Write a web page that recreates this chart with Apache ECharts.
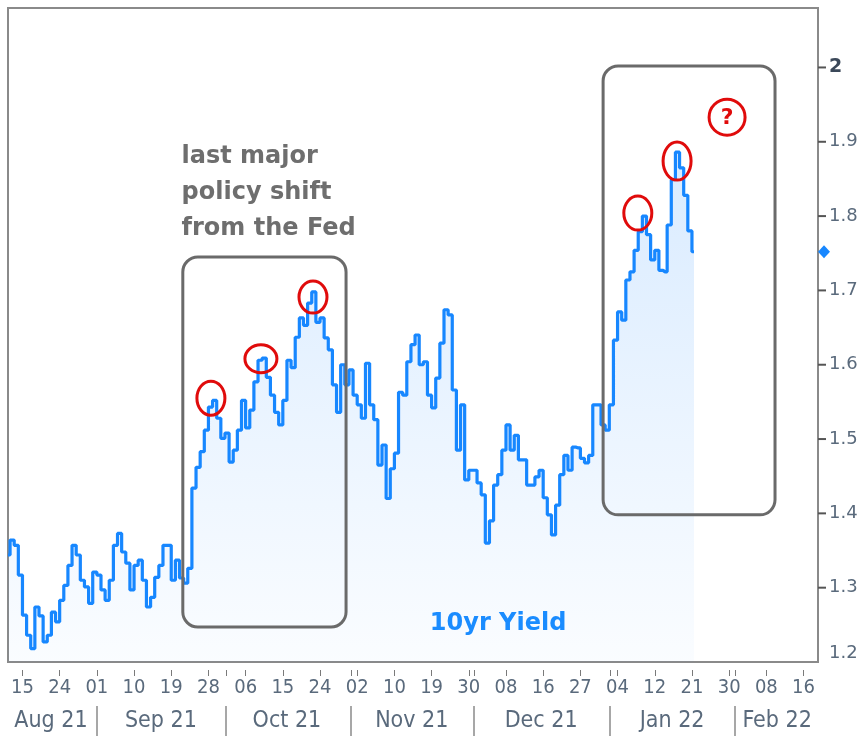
<!DOCTYPE html>
<html>
<head>
<meta charset="utf-8">
<script src="https://cdn.jsdelivr.net/npm/echarts@6/dist/echarts.min.js"></script>
<style>
  html, body { margin: 0; padding: 0; background: #fff; }
  #chart { width: 866px; height: 738px; }
</style>
</head>
<body>
<div id="chart"></div>
<script>
// 10yr yield, sampled along the session axis (one value per slot)
const yieldValues = [
  1.344, 1.364, 1.357, 1.317, 1.263, 1.236, 1.218, 1.274, 1.262, 1.227,
  1.236, 1.267, 1.254, 1.283, 1.303, 1.330, 1.357, 1.344, 1.310, 1.301,
  1.279, 1.321, 1.317, 1.297, 1.283, 1.310, 1.357, 1.373, 1.348, 1.333,
  1.297, 1.330, 1.337, 1.310, 1.274, 1.287, 1.314, 1.330, 1.357, 1.357,
  1.310, 1.337, 1.313, 1.306, 1.326, 1.434, 1.462, 1.483, 1.512, 1.543,
  1.552, 1.528, 1.501, 1.508, 1.469, 1.485, 1.512, 1.552, 1.515, 1.539,
  1.577, 1.606, 1.609, 1.583, 1.559, 1.536, 1.519, 1.552, 1.606, 1.596,
  1.637, 1.663, 1.653, 1.683, 1.698, 1.657, 1.663, 1.636, 1.620, 1.573,
  1.536, 1.600, 1.573, 1.593, 1.559, 1.546, 1.528, 1.602, 1.546, 1.526,
  1.465, 1.492, 1.420, 1.460, 1.481, 1.563, 1.559, 1.604, 1.627, 1.640,
  1.600, 1.604, 1.559, 1.542, 1.582, 1.629, 1.674, 1.667, 1.566, 1.485,
  1.546, 1.445, 1.458, 1.458, 1.441, 1.425, 1.360, 1.390, 1.438, 1.452,
  1.485, 1.519, 1.485, 1.505, 1.472, 1.472, 1.438, 1.438, 1.449, 1.458,
  1.421, 1.398, 1.371, 1.411, 1.452, 1.478, 1.458, 1.489, 1.488, 1.474,
  1.468, 1.478, 1.546, 1.546, 1.519, 1.512, 1.546, 1.633, 1.671, 1.660,
  1.714, 1.725, 1.754, 1.779, 1.800, 1.775, 1.741, 1.754, 1.727, 1.725,
  1.788, 1.849, 1.886, 1.865, 1.828, 1.780, 1.752
];

const slotCount = 196;   // axis runs 0..196 slots
const dayLabels = ['15', '24', '01', '10', '19', '28', '06', '15', '24', '02', '10',
  '19', '30', '08', '16', '27', '04', '12', '21', '30', '08', '16'];
const daySlots = dayLabels.map((_, k) => 3.5 + 9 * k);
const monthLabels = ['Aug 21', 'Sep 21', 'Oct 21', 'Nov 21', 'Dec 21', 'Jan 22', 'Feb 22'];
const monthLabelSlots = [10.4, 37.0, 67.5, 97.7, 129.0, 160.7, 186.1];
const monthStartSlots = [21.5, 52.7, 83.0, 112.7, 145.7, 175.9];
const yTicks = [1.2, 1.3, 1.4, 1.5, 1.6, 1.7, 1.8, 1.9, 2.0];

// annotations, in [slot, yield]
const boxes = [
  [[42.3, 1.745], [81.8, 1.247]],
  [[144.0, 2.002], [185.6, 1.398]]
];
const rings = [
  [49.1, 1.555, 14, 17], [61.2, 1.608, 16, 14], [73.8, 1.691, 14, 16],
  [152.4, 1.804, 14, 17], [161.9, 1.874, 14, 19]
];
const questionRing = [174.0, 1.933, 18];
const fedNote = [42.0, 1.832];
const seriesNote = [118.6, 1.252];

const lineBlue = '#1787ff';
const labelGrey = '#5a6a7c';
const narrowFont = "'Liberation Sans Narrow', 'DejaVu Sans Condensed', sans-serif";

function labelAt(slots, labels, value) {
  for (let i = 0; i < slots.length; i++) {
    if (Math.abs(slots[i] - value) < 0.01) return labels[i];
  }
  return '';
}

const chart = echarts.init(document.getElementById('chart'));
const last = yieldValues.length - 1;

chart.setOption({
  backgroundColor: '#fff',
  animation: false,
  grid: {
    left: 8, right: 48, top: 8, bottom: 76,
    show: true, borderColor: '#8a8a8a', borderWidth: 2, backgroundColor: 'transparent'
  },
  xAxis: [{
    type: 'value', min: 0, max: slotCount, position: 'bottom', offset: 8,
    splitLine: { show: false }, axisLine: { show: false, onZero: false },
    axisTick: {
      show: true, length: 6, lineStyle: { color: '#7a7a7a', width: 1 },
      customValues: daySlots.concat(monthStartSlots)
    },
    axisLabel: {
      customValues: daySlots, margin: 8, color: labelGrey, fontSize: 20,
      fontFamily: narrowFont,
      formatter: v => labelAt(daySlots, dayLabels, v)
    }
  }, {
    type: 'value', min: 0, max: slotCount, position: 'bottom', offset: 44,
    splitLine: { show: false }, axisLine: { show: false, onZero: false },
    axisTick: {
      show: true, length: 30, lineStyle: { color: '#8a8a8a', width: 1.5 },
      customValues: monthStartSlots
    },
    axisLabel: {
      customValues: monthLabelSlots, margin: 4, color: labelGrey, fontSize: 23,
      fontFamily: narrowFont,
      formatter: v => labelAt(monthLabelSlots, monthLabels, v)
    }
  }],
  yAxis: {
    type: 'value', position: 'right', min: 1.2, max: 2.08, interval: 0.1,
    splitLine: { show: false },
    axisLine: { show: false, onZero: false },
    axisTick: { show: false },
    axisLabel: {
      customValues: yTicks, margin: 11, color: labelGrey, fontSize: 18,
      fontFamily: "'DejaVu Sans', sans-serif",
      verticalAlignMinLabel: 'bottom',
      formatter: v => Math.abs(v - 2) < 1e-6 ? '{top|2}' : v.toFixed(1),
      rich: { top: { fontWeight: 'bold', color: '#3b4859', fontSize: 19, fontFamily: "'DejaVu Sans', sans-serif" } }
    }
  },
  series: [{
    type: 'line',
    xAxisIndex: 0,
    step: 'middle',
    data: yieldValues.map((v, i) => [i, v]),
    showSymbol: false,
    lineStyle: { color: lineBlue, width: 3.2 },
    itemStyle: { color: lineBlue },
    areaStyle: {
      color: new echarts.graphic.LinearGradient(0, 0, 0, 1, [
        { offset: 0, color: 'rgba(30,136,255,0.24)' },
        { offset: 1, color: 'rgba(30,136,255,0.03)' }
      ])
    },
    markPoint: {
      symbol: 'diamond', symbolSize: [12, 13], symbolOffset: [6, 0],
      label: { show: false },
      itemStyle: { color: lineBlue },
      data: [{ coord: [slotCount, yieldValues[last]] }]
    }
  }]
});

// annotations placed in data space
const px = p => chart.convertToPixel({ xAxisIndex: 0, yAxisIndex: 0 }, p);
const graphics = [];

// y-axis tick marks on the right edge, from the axis scale
yTicks.slice(1).forEach(v => {
  const p = px([slotCount, v]);
  graphics.push({
    type: 'line', z: 20,
    shape: { x1: p[0], y1: p[1], x2: p[0] + 8, y2: p[1] },
    style: { stroke: '#555555', lineWidth: 2 }
  });
});

boxes.forEach(([a, b]) => {
  const p1 = px(a), p2 = px(b);
  graphics.push({
    type: 'rect', z: 10,
    shape: { x: p1[0], y: p1[1], width: p2[0] - p1[0], height: p2[1] - p1[1], r: 15 },
    style: { fill: 'none', stroke: '#6a6a6a', lineWidth: 3 }
  });
});

rings.forEach(([s, v, rx, ry]) => {
  const c = px([s, v]);
  graphics.push({
    type: 'ellipse', z: 11,
    shape: { cx: c[0], cy: c[1], rx: rx, ry: ry },
    style: { fill: 'none', stroke: '#e00b0b', lineWidth: 3 }
  });
});

const q = px([questionRing[0], questionRing[1]]);
graphics.push({
  type: 'circle', z: 11,
  shape: { cx: q[0], cy: q[1], r: questionRing[2] },
  style: { fill: 'none', stroke: '#e00b0b', lineWidth: 3 }
});
graphics.push({
  type: 'text', z: 11, x: q[0], y: q[1] + 1,
  style: { text: '?', fill: '#e00b0b', font: "bold 22px 'DejaVu Sans'", align: 'center', verticalAlign: 'middle' }
});

const fp = px(fedNote);
graphics.push({
  type: 'text', z: 11, x: fp[0], y: fp[1],
  style: {
    text: 'last major\npolicy shift\nfrom the Fed', fill: '#6e6e6e',
    font: "bold 24px 'DejaVu Sans'", lineHeight: 36, align: 'left', verticalAlign: 'middle'
  }
});

const sp = px(seriesNote);
graphics.push({
  type: 'text', z: 11, x: sp[0], y: sp[1],
  style: { text: '10yr Yield', fill: '#1a8cff', font: "bold 24px 'DejaVu Sans'", align: 'center', verticalAlign: 'middle' }
});

chart.setOption({ graphic: graphics });
</script>
</body>
</html>
